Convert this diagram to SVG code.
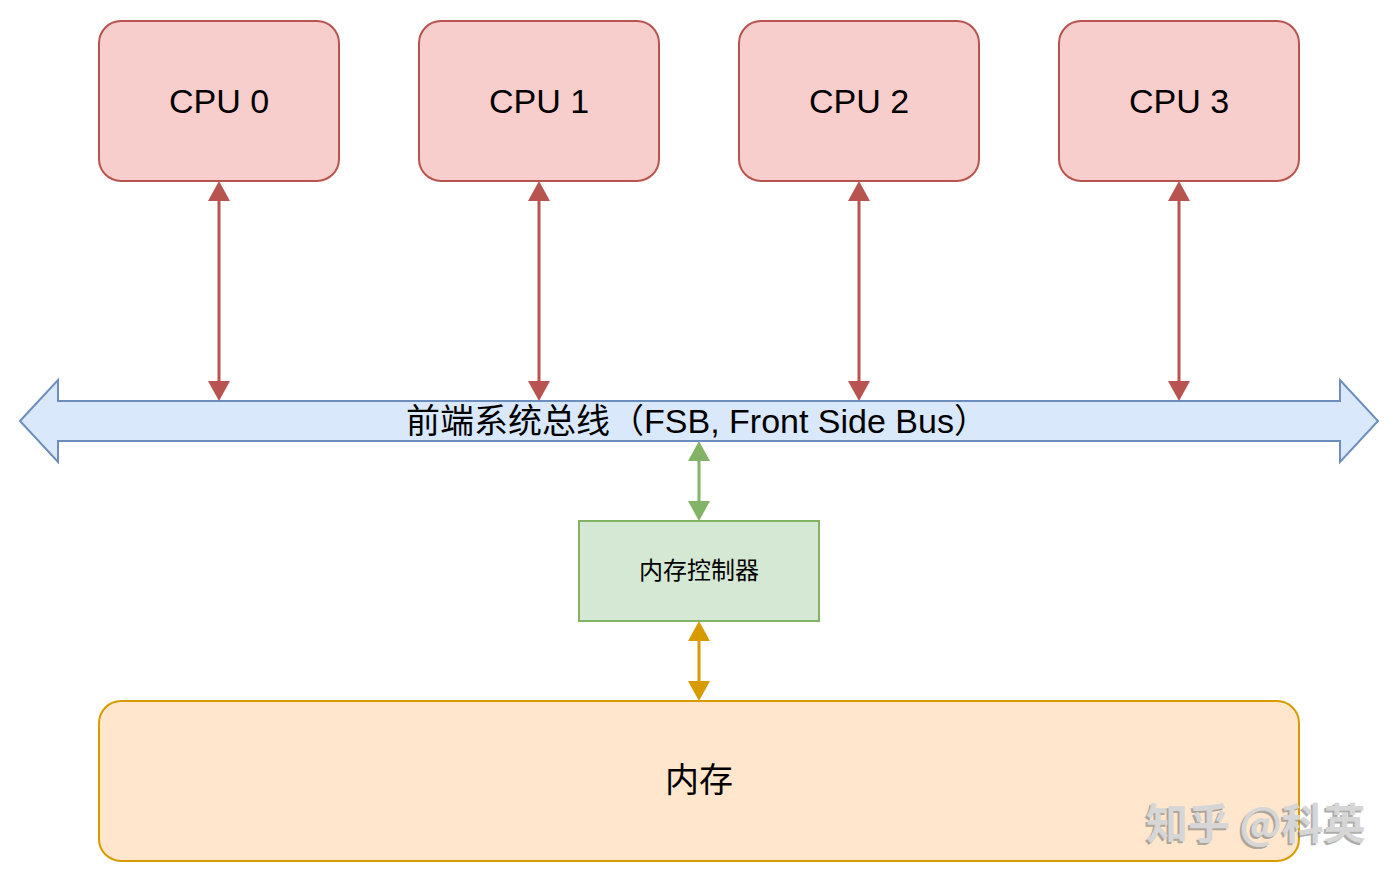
<svg xmlns="http://www.w3.org/2000/svg" width="1400" height="882" viewBox="0 0 1400 882">
<style>
.cpu rect{fill:#f8cecc;stroke:#b85450;stroke-width:2}
.lbl{font-family:"Liberation Sans","Noto Sans CJK SC",sans-serif;fill:#000}
.big{font-size:34px}
.red{stroke:#b85450;stroke-width:3;fill:none}
.grn{stroke:#82b366;stroke-width:3;fill:none}
.org{stroke:#d79b00;stroke-width:3;fill:none}
</style>
<defs>
<marker id="hr" viewBox="0 0 20 22" refX="0" refY="11" markerWidth="20" markerHeight="22" markerUnits="userSpaceOnUse" orient="auto-start-reverse"><path d="M0,0 L20,11 L0,22 Z" fill="#b85450"/></marker>
<marker id="hg" viewBox="0 0 20 22" refX="0" refY="11" markerWidth="20" markerHeight="22" markerUnits="userSpaceOnUse" orient="auto-start-reverse"><path d="M0,0 L20,11 L0,22 Z" fill="#82b366"/></marker>
<marker id="ho" viewBox="0 0 20 22" refX="0" refY="11" markerWidth="20" markerHeight="22" markerUnits="userSpaceOnUse" orient="auto-start-reverse"><path d="M0,0 L20,11 L0,22 Z" fill="#d79b00"/></marker>
</defs>
<rect width="1400" height="882" fill="#fff"/>
<g id="cpu0" class="cpu"><rect x="99" y="21" width="240" height="160" rx="22"/><text class="lbl big" x="219" y="113" text-anchor="middle">CPU 0</text></g>
<g id="cpu1" class="cpu"><rect x="419" y="21" width="240" height="160" rx="22"/><text class="lbl big" x="539" y="113" text-anchor="middle">CPU 1</text></g>
<g id="cpu2" class="cpu"><rect x="739" y="21" width="240" height="160" rx="22"/><text class="lbl big" x="859" y="113" text-anchor="middle">CPU 2</text></g>
<g id="cpu3" class="cpu"><rect x="1059" y="21" width="240" height="160" rx="22"/><text class="lbl big" x="1179" y="113" text-anchor="middle">CPU 3</text></g>
<g id="bus">
<polygon points="20,421 58,380 58,401 1340,401 1340,380 1378,421 1340,462 1340,441 58,441 58,462" fill="#dae8fc" stroke="#6c8ebf" stroke-width="2"/>
<text class="lbl big" x="697" y="433" text-anchor="middle">前端系统总线（FSB, Front Side Bus）</text>
</g>
<g id="controller"><rect x="579" y="521" width="240" height="100" fill="#d5e8d4" stroke="#82b366" stroke-width="2"/><text class="lbl" font-size="24" x="699" y="579" text-anchor="middle">内存控制器</text></g>
<g id="memory"><rect x="99" y="701" width="1200" height="160" rx="22" fill="#ffe6cc" stroke="#d79b00" stroke-width="2"/><text class="lbl big" x="699" y="792" text-anchor="middle">内存</text></g>
<g id="connectors">
<line class="red" x1="219" y1="201" x2="219" y2="381" marker-start="url(#hr)" marker-end="url(#hr)"/>
<line class="red" x1="539" y1="201" x2="539" y2="381" marker-start="url(#hr)" marker-end="url(#hr)"/>
<line class="red" x1="859" y1="201" x2="859" y2="381" marker-start="url(#hr)" marker-end="url(#hr)"/>
<line class="red" x1="1179" y1="201" x2="1179" y2="381" marker-start="url(#hr)" marker-end="url(#hr)"/>
<line class="grn" x1="699" y1="461" x2="699" y2="501" marker-start="url(#hg)" marker-end="url(#hg)"/>
<line class="org" x1="699" y1="641" x2="699" y2="681" marker-start="url(#ho)" marker-end="url(#ho)"/>
</g>
<g id="watermark" font-family="'Noto Sans CJK SC',sans-serif" font-size="42" font-weight="bold">
<text x="1144" y="841" fill="#7a7a7a" opacity="0.6">知乎 @科英</text>
<text x="1146" y="839" fill="#d6d6d6">知乎 @科英</text>
</g>
</svg>
